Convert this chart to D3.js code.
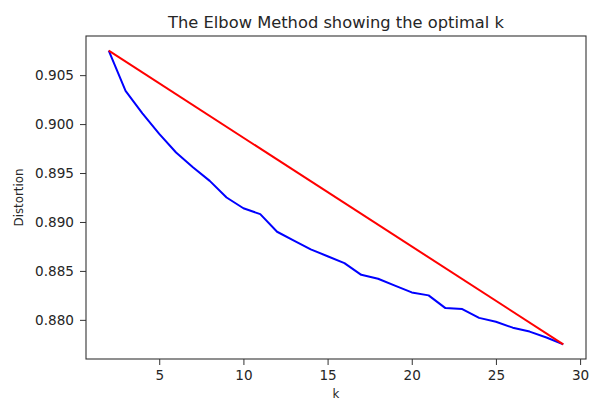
<!DOCTYPE html>
<html lang="en">

<head>

    <meta charset="UTF-8">
    <title>The Elbow Method showing the optimal k</title>

    <style>

        body
        {
            margin: 0;
            background: white;
        }

        text
        {
            font-family: 'DejaVu Sans', sans-serif;
            fill: #262626;
        }

        .tick text
        {
            font-size: 13.6px;
        }

        .tick line
        {
            stroke: #333;
        }

        .domain
        {
            stroke: none;
        }

        .axis-label
        {
            font-size: 11.8px;
        }

        .title
        {
            font-size: 16.3px;
        }

    </style>

</head>

<body>

    <svg width="589" height="402"></svg>

    <script src="https://d3js.org/d3.v7.min.js"></script>

    <script>

        // Data: number of clusters and the distortion for each
        const kValues = [2, 3, 4, 5, 6, 7, 8, 9, 10, 11, 12, 13, 14, 15, 16,
                         17, 18, 19, 20, 21, 22, 23, 24, 25, 26, 27, 28, 29];

        const distortions = [0.9075, 0.9034, 0.9011, 0.8990, 0.8971, 0.8956,
                             0.8942, 0.8925, 0.8914, 0.8908, 0.8890, 0.8881,
                             0.8872, 0.8865, 0.8858, 0.8846, 0.8842, 0.8835,
                             0.8828, 0.8825, 0.8812, 0.8811, 0.8802, 0.8798,
                             0.8792, 0.8788, 0.8782, 0.8775];

        // The red reference line joins first and last point
        const lineK = [2, 29];
        const lineDistortion = [0.9075, 0.8775];

        const xTicks = [5, 10, 15, 20, 25, 30];
        const yTicks = [0.880, 0.885, 0.890, 0.895, 0.900, 0.905];

        const title = 'The Elbow Method showing the optimal k';
        const xLabel = 'k';
        const yLabel = 'Distortion';

        // Plot frame in pixels
        const margin = { left: 86, right: 3, top: 36, bottom: 43 };

        const svg = d3.select('svg');

        const width = +svg.attr('width');
        const height = +svg.attr('height');
        const innerWidth = width - margin.left - margin.right;
        const innerHeight = height - margin.top - margin.bottom;

        // matplotlib style 5% padding around the data
        const pad = function (extent) {
            const span = extent[1] - extent[0];
            return [extent[0] - span * 0.05, extent[1] + span * 0.05];
        };

        const xScale = d3.scaleLinear()
            .domain(pad(d3.extent(kValues)))
            .range([0, innerWidth]);

        const yScale = d3.scaleLinear()
            .domain(pad(d3.extent(distortions)))
            .range([innerHeight, 0]);

        const group = svg.append('g')
            .attr('transform', 'translate(' + margin.left + ' ' + margin.top + ')');

        // Axes
        const xAxis = d3.axisBottom(xScale)
            .tickValues(xTicks)
            .tickFormat(d3.format('d'))
            .tickSize(6)
            .tickPadding(5);

        const yAxis = d3.axisLeft(yScale)
            .tickValues(yTicks)
            .tickFormat(d3.format('.3f'))
            .tickSize(6)
            .tickPadding(6);

        group.append('g')
            .attr('transform', 'translate(0 ' + innerHeight + ')')
            .call(xAxis)
            .call(function (g) { g.selectAll('.tick text').attr('fill', '#262626'); });

        group.append('g')
            .call(yAxis)
            .call(function (g) { g.selectAll('.tick text').attr('fill', '#262626'); });

        // Lines
        const pairs = function (xs, ys) {
            return xs.map(function (x, i) { return [x, ys[i]]; });
        };

        const line = d3.line()
            .x(function (d) { return xScale(d[0]); })
            .y(function (d) { return yScale(d[1]); });

        group.append('path')
            .datum(pairs(kValues, distortions))
            .attr('d', line)
            .attr('fill', 'none')
            .attr('stroke', '#0000ff')
            .attr('stroke-width', 2)
            .attr('stroke-linejoin', 'round');

        group.append('path')
            .datum(pairs(lineK, lineDistortion))
            .attr('d', line)
            .attr('fill', 'none')
            .attr('stroke', '#ff0000')
            .attr('stroke-width', 2);

        // Frame
        group.append('rect')
            .attr('x', 0)
            .attr('y', 0)
            .attr('width', innerWidth)
            .attr('height', innerHeight)
            .attr('fill', 'none')
            .attr('stroke', '#333')
            .attr('stroke-width', 1.1);

        // Labels
        svg.append('text')
            .attr('class', 'title')
            .attr('x', margin.left + innerWidth / 2)
            .attr('y', 28)
            .attr('text-anchor', 'middle')
            .text(title);

        svg.append('text')
            .attr('class', 'axis-label')
            .attr('x', margin.left + innerWidth / 2)
            .attr('y', 398)
            .attr('text-anchor', 'middle')
            .text(xLabel);

        svg.append('text')
            .attr('class', 'axis-label')
            .attr('transform', 'translate(23 ' + (margin.top + innerHeight / 2) + ') rotate(-90)')
            .attr('text-anchor', 'middle')
            .text(yLabel);

    </script>

</body>

</html>
